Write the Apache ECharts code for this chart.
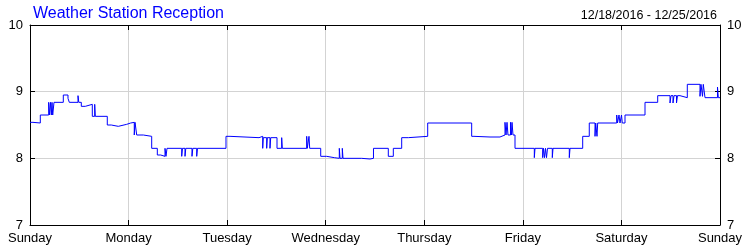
<!DOCTYPE html>
<html>
<head>
<meta charset="utf-8">
<script src="https://cdn.jsdelivr.net/npm/echarts@6/dist/echarts.min.js"></script>
<style>
html,body{margin:0;padding:0;background:#fff;}
#chart{width:750px;height:250px;}
</style>
</head>
<body>
<div id="chart"></div>
<script>
// Hours since Sunday 00:00 when the reading changed
const hours = [
  0, 0.73, 2.51, 4.55, 4.75, 4.99, 5.19, 5.36, 5.53, 5.84, 8.11, 9.25, 9.57, 11.69, 11.88, 12.49, 13.46,
  15.17, 15.75, 15.90, 18.82, 19.79, 21.50, 23.54, 24.52, 25.39, 25.57, 25.98, 27.59, 29.63, 31.00, 31.82,
  32.87, 33.11, 33.36, 36.94, 37.13, 37.74, 37.93, 39.44, 39.64, 40.59, 40.78, 47.72, 48.70, 55.76,
  56.66, 56.80, 57.63, 57.78, 58.43, 58.61, 60.14, 61.28, 61.43, 67.37, 67.52, 67.93, 68.10, 70.78,
  72.24, 74.09, 75.31, 75.48, 76.04, 76.21, 80.76, 82.78, 83.63, 87.24, 88.46, 90.50, 92.11, 96.83,
  107.54, 108.10, 112.00, 112.24, 113.22, 113.46, 114.43, 115.65, 115.90, 116.14, 116.38, 116.99, 117.23,
  117.36, 117.60, 118.09, 122.79, 122.96, 124.83, 125.03, 125.27, 125.51, 125.76, 126.00, 127.17, 127.34,
  131.31, 131.48, 134.57, 136.17, 137.57, 137.74, 138.05, 138.22, 142.85, 143.04, 143.41, 143.65, 144.02,
  144.21, 144.87, 149.74, 152.83, 155.83, 156.07, 156.56, 156.80, 157.41, 157.65, 158.26, 160.04,
  163.13, 163.37, 163.74, 163.93, 164.35, 167.39, 167.59, 168
];
const reception = [
  8.54, 8.53, 8.65, 8.84, 8.65, 8.84, 8.65, 8.84, 8.65, 8.84, 8.95, 8.90, 8.84, 8.94, 8.84, 8.78, 8.81,
  8.63, 8.81, 8.63, 8.50, 8.48, 8.51, 8.53, 8.54, 8.35, 8.54, 8.35, 8.33, 8.15, 8.05, 8.03,
  8.15, 8.03, 8.15, 8.03, 8.15, 8.03, 8.15, 8.03, 8.15, 8.03, 8.15, 8.33, 8.31, 8.33,
  8.15, 8.31, 8.15, 8.31, 8.15, 8.31, 8.15, 8.31, 8.15, 8.33, 8.15, 8.33, 8.15, 8.03,
  8.01, 8.00, 8.15, 8.00, 8.15, 8.00, 7.99, 8.00, 8.15, 8.03, 8.15, 8.31, 8.33, 8.53,
  8.33, 8.32, 8.34, 8.32, 8.34, 8.32, 8.35, 8.54, 8.35, 8.54, 8.35, 8.54, 8.35,
  8.54, 8.35, 8.15, 8.01, 8.15, 8.01, 8.15, 8.01, 8.15, 8.01, 8.15, 8.01, 8.15,
  8.01, 8.15, 8.33, 8.53, 8.33, 8.53, 8.33, 8.53, 8.65, 8.53, 8.65, 8.53, 8.65,
  8.53, 8.65, 8.84, 8.94, 8.83, 8.94, 8.83, 8.94, 8.83, 8.94, 8.91, 9.11,
  8.93, 9.11, 8.93, 9.11, 8.91, 9.07, 8.91, 8.91
];
const dayLabels = ['Sunday', 'Monday', 'Tuesday', 'Wednesday', 'Thursday', 'Friday', 'Saturday', 'Sunday'];
const yTicks = [7, 8, 9, 10];
const titleText = 'Weather Station Reception';
const dateRange = '12/18/2016 - 12/25/2016';

const chart = echarts.init(document.getElementById('chart'), null, {renderer: 'canvas'});
const font = 'Liberation Sans, Arial, sans-serif';
const axisLine = {show: true, onZero: false, lineStyle: {color: '#000', width: 1}};
const tick = {show: true, inside: true, length: 5, lineStyle: {color: '#000'}};
const yAxisBase = {
  type: 'value', min: yTicks[0], max: yTicks[yTicks.length - 1], interval: 1,
  axisLine: axisLine, axisTick: tick
};
chart.setOption({
  animation: false,
  backgroundColor: '#fff',
  title: [
    {text: titleText, left: 28, top: 1, textStyle: {color: '#0000ff', fontSize: 16, fontWeight: 'normal', fontFamily: font}},
    {text: dateRange, right: 28, top: 4, textStyle: {color: '#000', fontSize: 12.5, fontWeight: 'normal', fontFamily: font}}
  ],
  grid: {left: 30, right: 30, top: 25, bottom: 25, containLabel: false},
  xAxis: [
    {
      type: 'value', min: 0, max: 168, interval: 24, position: 'bottom',
      axisLine: axisLine, axisTick: tick,
      axisLabel: {show: true, margin: 7, color: '#000', fontSize: 13, fontFamily: font,
        formatter: v => dayLabels[Math.round(v / 24)]},
      splitLine: {show: true, lineStyle: {color: '#d3d3d3', width: 1}}
    },
    {
      type: 'value', min: 0, max: 168, interval: 24, position: 'top',
      axisLine: axisLine, axisTick: tick, axisLabel: {show: false}, splitLine: {show: false}
    }
  ],
  yAxis: [
    Object.assign({}, yAxisBase, {
      position: 'left',
      axisLabel: {show: true, margin: 7, color: '#000', fontSize: 13, fontFamily: font},
      splitLine: {show: true, lineStyle: {color: '#d3d3d3', width: 1}}
    }),
    Object.assign({}, yAxisBase, {
      position: 'right',
      axisLabel: {show: true, margin: 7, color: '#000', fontSize: 13, fontFamily: font},
      splitLine: {show: false}
    })
  ],
  series: [{
    type: 'line',
    step: 'end',
    showSymbol: false,
    symbol: 'none',
    xAxisIndex: 0,
    yAxisIndex: 0,
    lineStyle: {color: '#0000ff', width: 1},
    data: hours.map((h, i) => [h, reception[i]])
  }]
});
</script>
</body>
</html>
